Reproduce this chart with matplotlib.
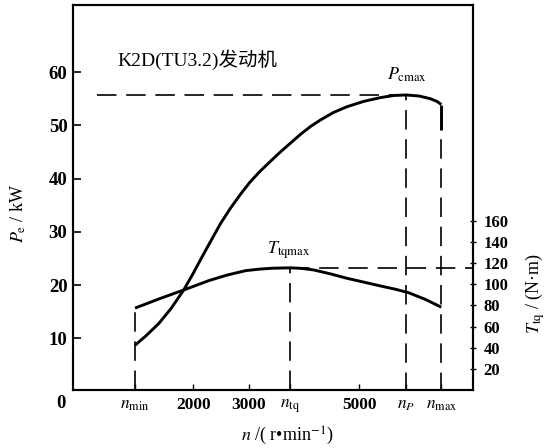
import matplotlib

matplotlib.use("Agg")

import matplotlib.pyplot as plt

plt.rcParams["font.family"] = ["Liberation Serif", "Noto Sans CJK SC"]
plt.rcParams["mathtext.fontset"] = "stix"
plt.rcParams["lines.scale_dashes"] = False

# speeds of the marked points, r/min
n_min = 950
n_tq = 3750
n_p = 5850
n_max = 6480

# effective power curve Pe (kW)
power_speed = [950, 1150, 1380, 1600, 1830, 2000, 2160, 2330, 2490, 2670, 2850, 3030, 3210,
               3400, 3575, 3750, 3936, 4120, 4297, 4530, 4778, 5080, 5379, 5620, 5850, 6080,
               6280, 6400, 6480]
power_kw = [8.7, 10.5, 12.8, 15.6, 19.1, 22.2, 25.3, 28.5, 31.5, 34.4, 37.0, 39.4, 41.4,
            43.3, 45.0, 46.6, 48.3, 49.8, 51.0, 52.4, 53.5, 54.5, 55.2, 55.6, 55.7, 55.5,
            55.0, 54.5, 53.9]
power_end_drop = 49.2  # short solid drop at n_max

# torque curve Ttq (N*m)
torque_speed = [950, 1400, 1830, 2281, 2600, 2944, 3200, 3425, 3750, 3950, 4176, 4478, 4778,
                5080, 5379, 5650, 5890, 6200, 6480]
torque_nm = [77.5, 86.5, 94.6, 103.4, 108.5, 112.8, 114.3, 115.1, 115.5, 115.0, 113.5, 109.8,
             105.6, 102.0, 98.4, 95.3, 92.0, 85.5, 78.3]

power_max = 55.7
torque_max = 115.5

x_ticks = [n_min, 2000, 3000, n_tq, 5000, n_p, n_max]
x_tick_labels = [r"$n_{\mathrm{min}}$", "2000", "3000", r"$n_{\mathrm{tq}}$", "5000", r"$n_P$", r"$n_{\mathrm{max}}$"]
power_ticks = [10, 20, 30, 40, 50, 60]
torque_ticks = [20, 40, 60, 80, 100, 120, 140, 160]

figure = plt.figure(figsize=(5.51, 4.48), dpi=100)
axis = figure.add_axes([0.1325, 0.1295, 0.7258, 0.8594])
torque_axis = axis.twinx()

dash_style = dict(color="black", linewidth=1.2, dashes=(14, 7))

# power side
axis.plot(power_speed, power_kw, color="black", linewidth=2.1, solid_capstyle="butt")
axis.plot([n_max, n_max], [power_kw[-1], power_end_drop], color="black", linewidth=2.1,
          solid_capstyle="butt")
axis.plot([270, n_p], [power_max, power_max], **dash_style)
axis.plot([n_p, n_p], [0, power_max], **dash_style)
axis.plot([n_max, n_max], [0, power_end_drop], **dash_style)

# torque side
torque_axis.plot(torque_speed, torque_nm, color="black", linewidth=2.1, solid_capstyle="butt")
torque_axis.plot([n_min, n_min], [0, torque_nm[0]], **dash_style)
torque_axis.plot([n_tq, n_tq], [0, torque_max], **dash_style)
torque_axis.plot([n_tq, 7050], [torque_max, torque_max], **dash_style)

axis.set_xlim(-170, 7050)
axis.set_ylim(0.3, 72.6)
torque_axis.set_ylim(0.2, 363.6)

axis.set_xticks(x_ticks)
axis.set_xticklabels(x_tick_labels)
axis.set_yticks(power_ticks)
torque_axis.set_yticks(torque_ticks)

axis.tick_params(axis="x", direction="in", length=4, width=1.0, pad=5, labelsize=12.5)
axis.tick_params(axis="y", direction="in", length=6, width=1.2, pad=4, labelsize=13.5)
torque_axis.tick_params(axis="y", direction="inout", length=5, width=1.0, pad=5, labelsize=12)

for label in axis.get_yticklabels() + axis.get_xticklabels() + torque_axis.get_yticklabels():
    label.set_fontweight("bold")

for spine in list(axis.spines.values()) + list(torque_axis.spines.values()):
    spine.set_linewidth(1.5)

axis.text(-0.03, -0.036, "0", transform=axis.transAxes, ha="center", va="center",
          fontsize=13.5, fontweight="bold")

axis.set_xlabel(r"$n$ /( r•min$^{-1}$)", fontsize=13, ha="center", va="center")
axis.xaxis.set_label_coords(0.535, -0.118)
axis.set_ylabel(r"$P_{\mathrm{e}}$ / kW", fontsize=13, ha="center", va="center")
axis.yaxis.set_label_coords(-0.138, 0.46)
torque_axis.set_ylabel(r"$T_{\mathrm{tq}}$ / (N·m)", fontsize=13, ha="center", va="center")
torque_axis.yaxis.set_label_coords(1.155, 0.25)

axis.text(0.112, 0.857, "K2D(TU3.2)发动机", transform=axis.transAxes, ha="left", va="center",
          fontsize=14)
axis.text(0.785, 0.818, r"$P_{\mathrm{cmax}}$", transform=axis.transAxes, ha="left", va="center",
          fontsize=13)
axis.text(0.484, 0.364, r"$T_{\mathrm{tqmax}}$", transform=axis.transAxes, ha="left", va="center",
          fontsize=13)

figure.savefig("out.png", dpi=100)
plt.close(figure)
